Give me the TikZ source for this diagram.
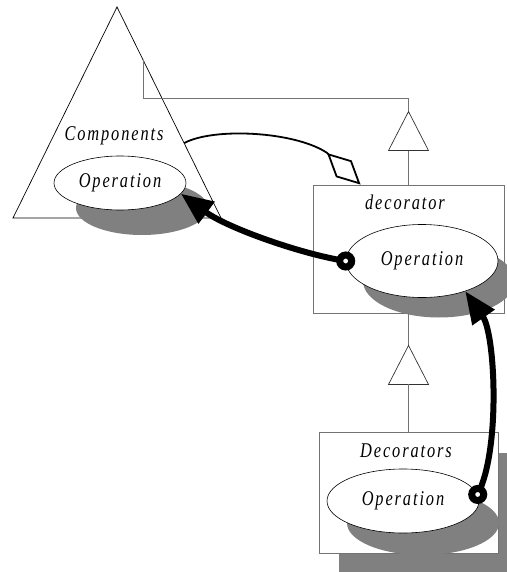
\documentclass[tikz,border=0pt]{standalone}
\usepackage{fontspec}
\setmainfont{Liberation Serif}
\usetikzlibrary{shapes.geometric, arrows.meta, shadows, calc}

\definecolor{shade}{gray}{0.5}
\definecolor{frame}{gray}{0.45}

\begin{document}
\begin{tikzpicture}[
    x=1pt, y=-1pt,
    line width=0.8pt,
    every node/.style={font=\fontsize{21}{23}\selectfont\itshape\addfontfeatures{FakeStretch=0.78, LetterSpace=9}},  % spaced italic labels
    bigarrow/.style={-{Triangle[length=32pt, width=26pt]}, line width=6pt},
    ring/.style={circle, draw, fill=white, line width=7pt, minimum size=12pt, inner sep=0pt}
]

% Styles for classes and links
\tikzset{
    classbox/.style={
        rectangle,
        draw=frame,
        fill=white,
        line width=0.9pt,
        inner sep=0pt,
    },
    opellipse/.style={
        ellipse,
        draw=black,
        fill=white,
        line width=0.6pt,
        inner sep=0pt,
    },
    genline/.style={draw=frame, line width=0.9pt},
    gentri/.style={draw=black!80, line width=0.7pt, fill=white},
    aggr/.style={-{Diamond[open, length=46pt, width=23pt]}, line width=1.8pt},
}

\useasboundingbox (0,0) rectangle (506,572);

% Components (triangle)
\coordinate (apex) at (117,7);
\coordinate (baseL) at (13,218);
\coordinate (baseR) at (221,218);
\draw[line width=0.7pt] (apex) -- (baseL) -- (baseR) -- cycle;
\coordinate (compG) at ($(apex)!0.251!(baseR)$);
\coordinate (compA) at ($(apex)!0.645!(baseR)$);

\node (compname) at (114,136) {Components};
\node[opellipse, minimum width=132pt, minimum height=54pt,
      drop shadow={shadow xshift=22pt, shadow yshift=-25pt, opacity=1, fill=shade}] (compop) at (120,183) {Operation};

% decorator (box)
\node[classbox, minimum width=191pt, minimum height=128pt] (dec) at (408.5,249) {};
\node (decname) at (405,202) {decorator};
\node[opellipse, minimum width=152pt, minimum height=73pt,
      drop shadow={shadow xshift=17pt, shadow yshift=-20pt, opacity=1, fill=shade}] (decop) at (422,261) {Operation};

% Decorators (box)
\node[classbox, minimum width=179pt, minimum height=121pt,
      drop shadow={shadow xshift=20pt, shadow yshift=-21pt, opacity=1, fill=shade}] (decs) at (408.5,492.5) {};
\node (decsname) at (406,451) {Decorators};
\node[opellipse, minimum width=152pt, minimum height=64pt,
      drop shadow={shadow xshift=20pt, shadow yshift=-22pt, opacity=1, fill=shade}] (decsop) at (403,501) {Operation};

% Generalization: decorator -> Components
\coordinate (gen1) at ([yshift=73pt]dec.north);
\coordinate (gen1bar) at ([yshift=13pt]gen1);
\draw[genline] (compG) |- (gen1bar) -- (gen1);
\draw[gentri] (gen1) -- ++(20,39) -- ++(-40,0) -- cycle;
\draw[genline] ($(gen1)+(0,39)$) -- (dec.north);

% Generalization: Decorators -> decorator
\coordinate (gen2) at ([yshift=-32pt]dec.south);
\draw[genline] (dec.south) -- (gen2);
\draw[gentri] (gen2) -- ++(20,39) -- ++(-40,0) -- cycle;
\draw[genline] ($(gen2)+(0,39)$) -- (decs.north);

% Aggregation: decorator holds a component
\coordinate (aggrend) at ([xshift=48pt]dec.north west);
\draw[aggr] (compA) .. controls +(30,-16) and +(-32,-21) .. ([shift={(-34,-32)}]aggrend) -- (aggrend);

% Calls (thick arrows with rings)
\draw[bigarrow] (decop.west) .. controls +(-45,-7) and +(46,34) .. (compop.-10);
\node[ring] (ringA) at (decop.west) {};

\draw[bigarrow] (decsop.5) .. controls +(23,-45) and +(30,43) .. (decop.-35);
\node[ring] (ringB) at (decsop.5) {};

\end{tikzpicture}
\end{document}
